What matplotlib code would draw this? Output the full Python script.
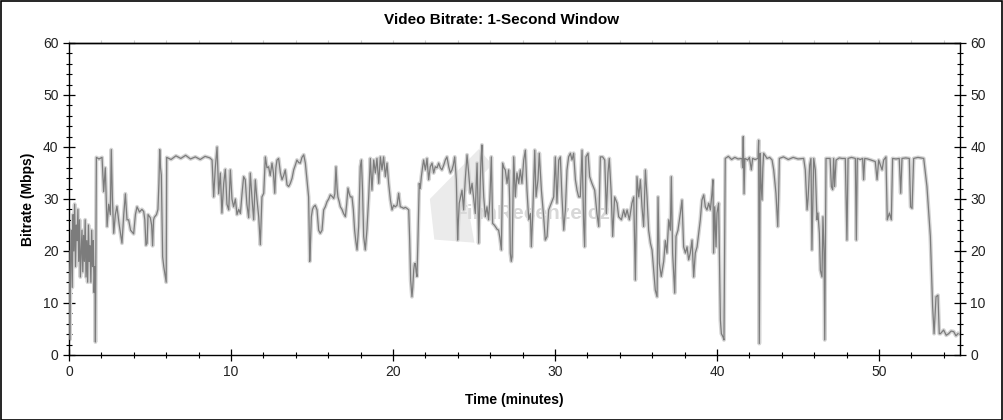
import matplotlib
matplotlib.use("Agg")
import matplotlib.pyplot as plt
from matplotlib.ticker import MultipleLocator
from matplotlib.patches import Rectangle, Polygon

plt.rcParams['font.family'] = ['Liberation Sans', 'DejaVu Sans']

# time in minutes / bitrate in Mbps
times = [
    0.00, 0.05, 0.10, 0.15, 0.20, 0.25, 0.30, 0.35, 0.40, 0.45, 0.50, 0.55, 0.60, 0.65, 0.70,
    0.80, 0.85, 0.90, 0.95, 1.00, 1.05, 1.10, 1.15, 1.20, 1.25, 1.30, 1.35, 1.40, 1.45, 1.50,
    1.55, 1.60, 1.63, 1.69, 1.85, 2.04, 2.14, 2.24, 2.35, 2.45, 2.55, 2.61, 2.68, 2.76, 2.86,
    2.96, 3.10, 3.27, 3.38, 3.48, 3.58, 3.68, 3.80, 3.99, 4.10, 4.20, 4.35, 4.50, 4.61, 4.68,
    4.75, 4.82, 4.88, 5.02, 5.10, 5.16, 5.22, 5.27, 5.40, 5.49, 5.55, 5.60, 5.65, 5.70, 5.75,
    5.78, 5.85, 5.95, 6.00, 6.03, 6.30, 6.60, 6.90, 7.20, 7.50, 7.80, 8.10, 8.40, 8.70, 8.83,
    8.93, 9.03, 9.14, 9.24, 9.34, 9.44, 9.55, 9.65, 9.75, 9.86, 9.96, 10.06, 10.16, 10.27, 10.37,
    10.48, 10.58, 10.68, 10.78, 10.88, 10.98, 11.09, 11.19, 11.30, 11.40, 11.50, 11.60, 11.71, 11.81, 11.91,
    12.02, 12.12, 12.22, 12.32, 12.42, 12.53, 12.62, 12.70, 12.77, 12.84, 12.94, 13.05, 13.15, 13.25, 13.35,
    13.46, 13.56, 13.66, 13.77, 13.87, 13.97, 14.07, 14.18, 14.28, 14.38, 14.49, 14.59, 14.69, 14.79, 14.86,
    14.91, 14.96, 15.03, 15.10, 15.20, 15.31, 15.41, 15.51, 15.62, 15.72, 15.82, 15.93, 16.03, 16.13, 16.24,
    16.34, 16.41, 16.48, 16.55, 16.60, 16.68, 16.75, 16.85, 16.95, 17.06, 17.14, 17.22, 17.30, 17.37, 17.47,
    17.55, 17.63, 17.70, 17.78, 17.83, 17.88, 17.98, 18.05, 18.12, 18.19, 18.29, 18.39, 18.50, 18.60, 18.70,
    18.81, 18.91, 19.01, 19.12, 19.22, 19.32, 19.42, 19.53, 19.63, 19.73, 19.84, 19.94, 20.04, 20.14, 20.25,
    20.35, 20.45, 20.55, 20.66, 20.76, 20.86, 20.97, 21.03, 21.09, 21.17, 21.22, 21.28, 21.33, 21.38, 21.43,
    21.48, 21.54, 21.62, 21.68, 21.75, 21.82, 21.89, 22.00, 22.10, 22.20, 22.30, 22.41, 22.51, 22.61, 22.72,
    22.82, 22.92, 23.02, 23.13, 23.23, 23.33, 23.44, 23.54, 23.64, 23.72, 23.81, 23.91, 23.99, 24.04, 24.09,
    24.18, 24.26, 24.36, 24.46, 24.57, 24.67, 24.77, 24.88, 24.98, 25.08, 25.14, 25.19, 25.24, 25.29, 25.34,
    25.39, 25.44, 25.49, 25.55, 25.60, 25.70, 25.80, 25.90, 25.98, 26.07, 26.15, 26.25, 26.32, 26.42, 26.52,
    26.60, 26.69, 26.77, 26.85, 26.93, 27.04, 27.14, 27.20, 27.24, 27.30, 27.35, 27.45, 27.55, 27.65, 27.76,
    27.86, 27.96, 28.07, 28.17, 28.27, 28.38, 28.48, 28.54, 28.62, 28.75, 28.83, 28.95, 29.03, 29.16, 29.30,
    29.40, 29.51, 29.61, 29.77, 29.92, 30.02, 30.12, 30.23, 30.33, 30.43, 30.54, 30.64, 30.74, 30.84, 30.95,
    31.05, 31.15, 31.26, 31.36, 31.46, 31.56, 31.67, 31.77, 31.83, 31.91, 32.04, 32.14, 32.28, 32.45, 32.59,
    32.70, 32.80, 32.94, 33.07, 33.17, 33.27, 33.35, 33.46, 33.56, 33.68, 33.83, 33.93, 34.10, 34.24, 34.34,
    34.45, 34.59, 34.75, 34.86, 34.96, 35.06, 35.17, 35.27, 35.37, 35.47, 35.58, 35.68, 35.78, 35.89, 35.99,
    36.09, 36.19, 36.30, 36.36, 36.44, 36.56, 36.71, 36.81, 36.91, 37.02, 37.12, 37.18, 37.26, 37.39, 37.47,
    37.59, 37.74, 37.84, 37.94, 38.05, 38.15, 38.25, 38.35, 38.46, 38.56, 38.66, 38.77, 38.87, 38.97, 39.07,
    39.18, 39.28, 39.38, 39.49, 39.59, 39.69, 39.75, 39.79, 39.86, 39.94, 40.00, 40.10, 40.21, 40.27, 40.37,
    40.43, 40.51, 40.70, 40.90, 41.10, 41.30, 41.54, 41.58, 41.62, 41.67, 41.72, 41.90, 42.00, 42.12, 42.20,
    42.35, 42.53, 42.57, 42.61, 42.67, 42.72, 42.78, 42.83, 42.88, 43.09, 43.25, 43.40, 43.50, 43.58, 43.64,
    43.75, 43.80, 43.85, 44.10, 44.40, 44.70, 45.00, 45.35, 45.45, 45.56, 45.62, 45.66, 45.72, 45.80, 45.86,
    45.92, 45.97, 46.07, 46.17, 46.23, 46.32, 46.38, 46.48, 46.54, 46.61, 46.65, 46.73, 46.98, 47.06, 47.14,
    47.20, 47.26, 47.35, 47.55, 47.72, 47.92, 48.02, 48.09, 48.30, 48.54, 48.60, 48.66, 48.85, 48.99, 49.05,
    49.12, 49.30, 49.50, 49.77, 49.88, 49.98, 50.19, 50.29, 50.43, 50.51, 50.64, 50.76, 50.84, 51.05, 51.25,
    51.34, 51.42, 51.65, 51.87, 51.95, 52.04, 52.14, 52.40, 52.76, 52.96, 53.17, 53.31, 53.40, 53.52, 53.64,
    53.72, 53.79, 53.99, 54.15, 54.30, 54.45, 54.61, 54.75, 54.88,
]
bitrate = [
    20.0, 3.0, 18.0, 24.0, 13.0, 27.0, 20.0, 29.0, 17.0, 25.0, 22.0, 28.0, 18.0, 26.0, 15.0,
    24.0, 16.0, 23.0, 18.0, 26.0, 15.0, 22.0, 14.0, 25.0, 18.0, 21.0, 14.0, 24.0, 17.0, 22.0,
    12.0, 17.0, 2.5, 38.0, 37.7, 38.0, 31.4, 36.0, 24.7, 29.0, 27.0, 39.5, 30.0, 23.4, 27.0,
    28.6, 25.0, 21.5, 27.0, 31.0, 26.0, 26.0, 24.0, 23.3, 27.0, 28.5, 27.5, 28.0, 27.6, 26.0,
    21.1, 21.5, 27.0, 26.4, 25.0, 21.0, 26.0, 26.5, 27.0, 28.0, 33.0, 39.5, 36.0, 34.6, 25.0,
    18.9, 17.0, 15.0, 14.0, 38.0, 37.6, 38.3, 37.8, 38.4, 37.7, 38.1, 37.6, 38.2, 37.9, 37.5,
    30.4, 36.0, 40.0, 31.0, 35.0, 27.3, 33.0, 35.7, 29.0, 27.9, 35.6, 30.0, 28.5, 30.0, 27.0,
    28.0, 27.2, 31.0, 34.3, 33.7, 29.0, 26.4, 35.0, 30.0, 26.0, 33.7, 30.0, 26.6, 21.2, 30.4,
    31.1, 38.1, 36.0, 36.2, 34.5, 36.9, 35.0, 31.1, 36.0, 37.5, 37.8, 35.0, 33.7, 34.5, 35.6,
    32.7, 32.4, 33.0, 34.0, 35.6, 36.5, 37.5, 37.0, 36.9, 38.0, 38.5, 36.9, 33.7, 30.4, 18.0,
    22.0, 26.6, 28.0, 28.5, 28.8, 27.9, 24.0, 23.4, 24.0, 27.9, 28.5, 29.5, 30.0, 30.8, 30.5,
    30.1, 31.0, 36.2, 32.0, 30.4, 29.5, 28.5, 28.0, 27.2, 26.6, 29.0, 32.1, 31.0, 30.4, 30.4,
    28.0, 24.0, 22.0, 20.2, 22.5, 24.7, 36.2, 37.5, 31.7, 22.8, 20.2, 24.0, 30.4, 37.8, 31.7,
    37.5, 35.0, 37.8, 33.0, 38.1, 35.6, 38.1, 34.3, 36.9, 33.0, 29.8, 27.9, 28.8, 28.5, 28.8,
    31.1, 28.5, 28.4, 28.2, 28.4, 28.2, 27.9, 22.1, 14.4, 11.2, 13.0, 16.4, 17.6, 17.6, 16.0,
    15.1, 22.1, 33.0, 32.0, 34.3, 36.0, 37.5, 35.6, 37.8, 33.7, 36.2, 36.9, 35.0, 36.2, 36.0,
    36.9, 36.0, 35.6, 36.5, 37.5, 38.1, 36.2, 35.0, 35.6, 36.5, 38.1, 33.7, 22.1, 26.0, 29.2,
    30.5, 31.7, 27.9, 33.7, 38.5, 35.0, 31.1, 33.0, 30.0, 27.2, 33.0, 36.9, 30.0, 21.5, 28.0,
    33.7, 38.0, 40.4, 34.0, 30.4, 26.6, 28.5, 26.0, 30.0, 38.1, 25.3, 25.0, 24.7, 24.2, 24.0,
    22.5, 20.2, 36.9, 36.0, 35.6, 33.0, 35.6, 30.0, 19.6, 18.0, 18.9, 38.1, 30.4, 35.0, 33.0,
    35.6, 33.0, 37.5, 39.4, 31.7, 26.0, 27.2, 20.8, 26.6, 39.4, 30.4, 33.7, 38.8, 31.7, 26.6,
    22.1, 22.8, 27.9, 29.2, 30.4, 38.1, 29.2, 37.5, 38.1, 30.4, 24.0, 27.9, 35.6, 38.1, 38.8,
    37.5, 38.8, 33.7, 31.7, 30.4, 30.4, 39.4, 25.3, 20.8, 38.1, 38.8, 34.3, 33.0, 31.7, 27.2,
    24.7, 38.1, 38.1, 37.5, 27.2, 35.0, 37.8, 31.7, 22.8, 30.4, 29.2, 26.6, 26.0, 27.9, 26.6,
    27.9, 26.0, 29.2, 30.4, 14.4, 34.3, 30.4, 33.7, 28.5, 24.7, 35.6, 30.4, 24.0, 21.5, 20.2,
    16.4, 12.5, 11.2, 30.4, 17.6, 15.1, 18.0, 22.0, 19.6, 26.0, 24.0, 34.3, 19.6, 11.9, 22.8,
    24.0, 27.3, 29.8, 20.8, 19.6, 20.8, 18.3, 19.6, 22.1, 15.0, 19.6, 20.8, 23.4, 26.0, 29.8,
    30.8, 28.5, 27.9, 29.2, 27.9, 31.1, 33.7, 19.6, 28.5, 20.8, 27.3, 29.2, 6.7, 4.1, 3.5,
    2.9, 37.8, 38.2, 37.6, 38.0, 37.7, 37.8, 36.0, 42.0, 31.0, 37.8, 37.5, 38.0, 35.6, 37.8,
    37.6, 37.8, 41.3, 2.2, 38.8, 33.0, 29.8, 36.0, 38.8, 37.8, 38.0, 37.5, 35.6, 33.0, 31.1,
    24.7, 30.0, 37.8, 38.1, 37.6, 38.0, 37.7, 37.8, 35.6, 27.9, 30.0, 32.4, 36.5, 37.8, 20.2,
    30.0, 37.8, 35.6, 26.0, 27.3, 23.4, 16.3, 15.0, 26.6, 19.6, 2.9, 37.8, 37.8, 32.4, 31.8,
    37.8, 32.4, 37.5, 37.9, 37.8, 37.8, 22.1, 37.8, 38.0, 37.8, 22.1, 37.8, 37.6, 37.8, 33.7,
    37.8, 37.7, 37.5, 37.2, 33.7, 37.5, 35.6, 37.5, 38.1, 26.0, 27.3, 26.0, 37.8, 37.7, 37.8,
    31.1, 37.8, 37.9, 37.8, 28.5, 28.2, 37.8, 38.0, 37.8, 32.4, 22.8, 9.3, 4.1, 11.2, 11.5,
    4.1, 4.1, 4.8, 3.8, 4.1, 4.6, 4.5, 3.7, 4.1,
]

fig = plt.figure(figsize=(10.04, 4.2), dpi=100)
ax = fig.add_axes([69 / 1004, 65 / 420, 891 / 1004, 312 / 420])

# light fuzz under the darker trace
ax.plot(times, bitrate, color="#d4d4d4", lw=2.8, zorder=2)
ax.plot(times, bitrate, color="#7c7c7c", lw=0.9, zorder=3)

# watermark (clapper board + site name)
clap = Polygon([(0.405, 0.50), (0.46, 0.66), (0.475, 0.61), (0.445, 0.52), (0.455, 0.36),
                (0.41, 0.37)], closed=True, transform=ax.transAxes,
               facecolor="#ebebeb", edgecolor="none", zorder=1)
ax.add_patch(clap)
ax.text(0.52, 0.455, "FilmRecenze.cz", transform=ax.transAxes, ha="center", va="center",
        fontsize=15, fontweight="bold", color="#d8d8d8", zorder=1)

ax.set_xlim(0, 55)
ax.set_ylim(0, 60)
ax.xaxis.set_major_locator(MultipleLocator(10))
ax.xaxis.set_minor_locator(MultipleLocator(2))
ax.yaxis.set_major_locator(MultipleLocator(10))
ax.yaxis.set_minor_locator(MultipleLocator(2))
ax.tick_params(which="major", direction="inout", length=9, width=0.9, labelsize=10,
               labelcolor="#222222", right=True, labelright=True, pad=3)
ax.tick_params(which="minor", direction="inout", length=4.5, width=0.8, right=True)

top = ax.secondary_xaxis("top")
top.xaxis.set_major_locator(MultipleLocator(2))
top.tick_params(direction="out", length=2.5, color="#cfcfcf", labeltop=False)
top.spines["top"].set_linewidth(1.0)

for s in ax.spines.values():
    s.set_linewidth(1.0)

ax.set_xlabel("Time (minutes)", fontsize=10, fontweight="bold", labelpad=10)
ax.set_ylabel("Bitrate (Mbps)", fontsize=10, fontweight="bold", labelpad=6)
fig.text(0.5, 1 - 20 / 420, "Video Bitrate: 1-Second Window", ha="center", va="center",
         fontsize=11, fontweight="bold")

# thin frame around the whole picture
fig.patches.append(Rectangle((0.0005, 0.001), 0.998, 0.997, transform=fig.transFigure,
                             fill=False, edgecolor="black", lw=1.2))

fig.savefig("out.png", dpi=100)
